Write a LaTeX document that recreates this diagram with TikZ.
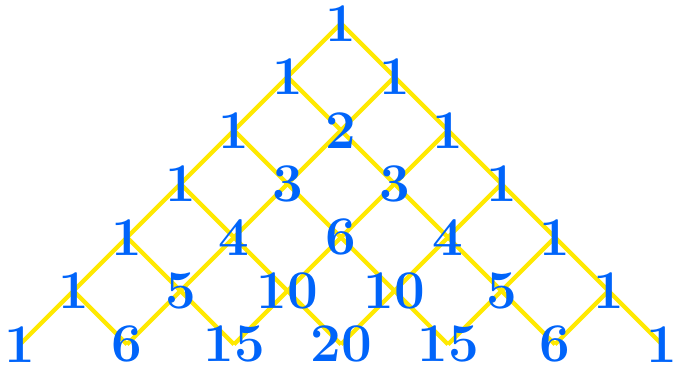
\documentclass[tikz,border=0pt]{standalone}
\usepackage{fontspec}
\usetikzlibrary{backgrounds}

\definecolor{numblue}{RGB}{0,100,250}
\definecolor{gridyellow}{RGB}{255,233,0}

\tikzset{
    entry/.style={text=numblue, inner sep=0pt, font=\fontsize{29}{35}\selectfont\bfseries},
    link/.style={gridyellow, line width=2.3pt}
}

\begin{document}
\begin{tikzpicture}

\useasboundingbox (-6.374,-6.442) rectangle (6.224,0.437);

% Wiersze trojkata Pascala
\foreach \r/\vals in {0/{1}, 1/{1,1}, 2/{1,2,1}, 3/{1,3,3,1}, 4/{1,4,6,4,1},
                      5/{1,5,10,10,5,1}, 6/{1,6,15,20,15,6,1}} {
    \foreach \v [count=\k from 0] in \vals {
        \node[entry] (p-\r-\k) at ({2*\k-\r},{-\r}) {\v};
    }
}

% Polaczenia miedzy wierszami (pod liczbami)
\begin{scope}[on background layer]
\foreach \r in {0,...,5} {
    \foreach \k in {0,...,\r} {
        \pgfmathtruncatemacro\rn{\r+1}
        \pgfmathtruncatemacro\kn{\k+1}
        \draw[link] (p-\r-\k.center) -- (p-\rn-\k.center);
        \draw[link] (p-\r-\k.center) -- (p-\rn-\kn.center);
    }
}
\end{scope}
\end{tikzpicture}
\end{document}
